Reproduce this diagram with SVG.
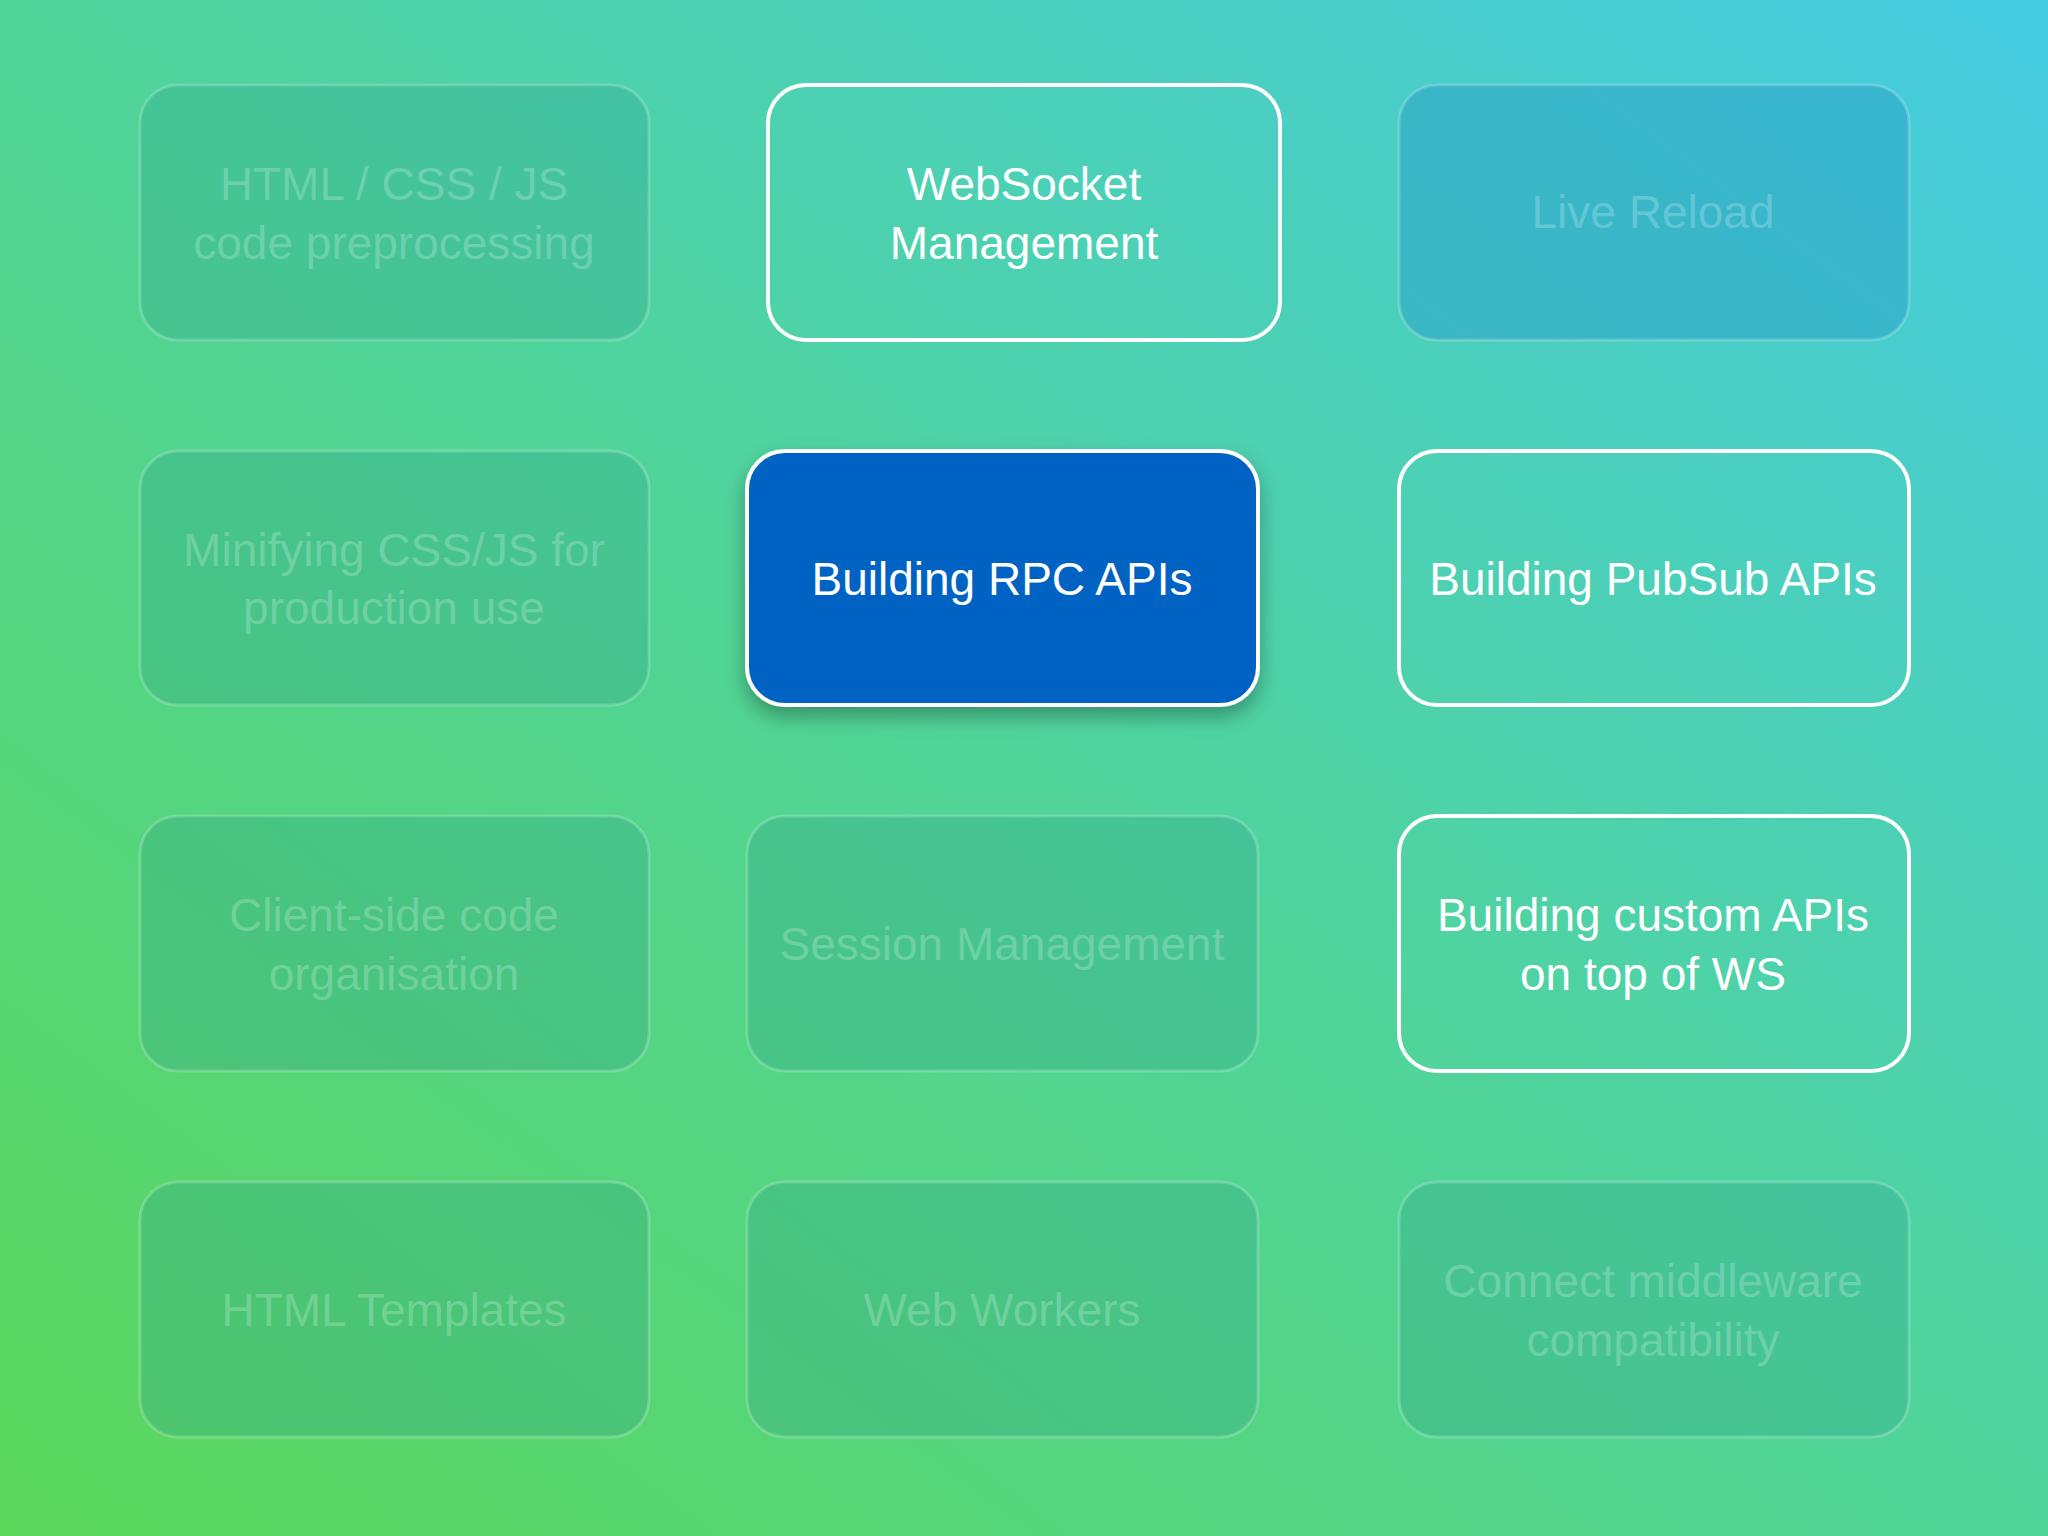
<svg xmlns="http://www.w3.org/2000/svg" width="2048" height="1536" viewBox="0 0 2048 1536">
<defs>
<linearGradient id="bg" x1="0" y1="1" x2="1" y2="0">
<stop offset="0" stop-color="#5bd75a"/>
<stop offset="0.5" stop-color="#50d49a"/>
<stop offset="1" stop-color="#45cbe2"/>
</linearGradient>
<filter id="sh" x="-20%" y="-20%" width="140%" height="150%"><feDropShadow dx="0" dy="10" stdDeviation="10" flood-color="#000" flood-opacity="0.3"/></filter>
<style>
.f{fill:#2a9a8a;fill-opacity:0.28;stroke:#ffffff;stroke-opacity:0.2;stroke-width:3}
.w{fill:none;stroke:#ffffff;stroke-width:4}
.b{fill:#0563c4;stroke:#ffffff;stroke-width:4}
text{font-family:"Liberation Sans","DejaVu Sans",sans-serif;font-size:46px;text-anchor:middle;dominant-baseline:central}
.ft{fill:#ffffff;fill-opacity:0.22}
.wt{fill:#ffffff}
</style>
</defs>
<rect width="2048" height="1536" fill="url(#bg)"/>
<g id="n1"><rect class="f" x="140" y="85" width="509" height="255" rx="38"/><text class="ft" x="394" y="184">HTML / CSS / JS</text><text class="ft" x="394" y="243">code preprocessing</text></g>
<g id="n2"><rect class="w" x="768" y="85" width="512" height="255" rx="38"/><text class="wt" x="1024" y="184">WebSocket</text><text class="wt" x="1024" y="243">Management</text></g>
<g id="n3"><rect x="1399" y="85" width="510" height="255" rx="38" fill="#2aa0c8" fill-opacity="0.5" stroke="#fff" stroke-opacity="0.2" stroke-width="3"/><text class="ft" x="1653" y="212">Live Reload</text></g>
<g id="n4"><rect class="f" x="140" y="451" width="509" height="254" rx="38"/><text class="ft" x="394" y="550">Minifying CSS/JS for</text><text class="ft" x="394" y="608">production use</text></g>
<g id="n5"><rect class="b" filter="url(#sh)" x="747" y="451" width="511" height="254" rx="38"/><text class="wt" x="1002" y="579">Building RPC APIs</text></g>
<g id="n6"><rect class="w" x="1399" y="451" width="510" height="254" rx="38"/><text class="wt" x="1653" y="579">Building PubSub APIs</text></g>
<g id="n7"><rect class="f" x="140" y="816" width="509" height="255" rx="38"/><text class="ft" x="394" y="915">Client-side code</text><text class="ft" x="394" y="974">organisation</text></g>
<g id="n8"><rect class="f" x="747" y="816" width="511" height="255" rx="38"/><text class="ft" x="1002" y="944">Session Management</text></g>
<g id="n9"><rect class="w" x="1399" y="816" width="510" height="255" rx="38"/><text class="wt" x="1653" y="915">Building custom APIs</text><text class="wt" x="1653" y="974">on top of WS</text></g>
<g id="n10"><rect class="f" x="140" y="1182" width="509" height="255" rx="38"/><text class="ft" x="394" y="1310">HTML Templates</text></g>
<g id="n11"><rect class="f" x="747" y="1182" width="511" height="255" rx="38"/><text class="ft" x="1002" y="1310">Web Workers</text></g>
<g id="n12"><rect class="f" x="1399" y="1182" width="510" height="255" rx="38"/><text class="ft" x="1653" y="1281">Connect middleware</text><text class="ft" x="1653" y="1340">compatibility</text></g>
<g id="connectors"/>
</svg>
